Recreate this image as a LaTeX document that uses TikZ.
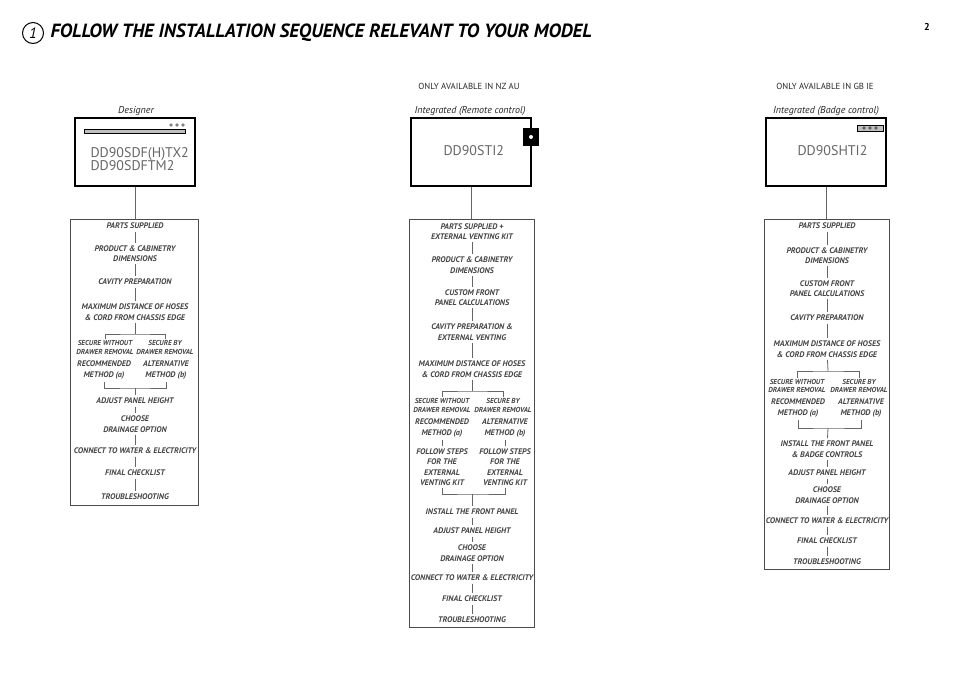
\documentclass[tikz,border=0pt]{standalone}
\usepackage{fontspec}
\setmainfont{PT Sans}
\usepackage{tikz}

\definecolor{txtgray}{HTML}{444444}
\definecolor{linegray}{HTML}{666666}

\begin{document}
\begin{tikzpicture}[x=1pt,y=-1pt,
  stp/.style={font=\fontsize{8.1}{10.5}\selectfont\bfseries\itshape, text=txtgray, align=center, inner sep=2.5pt},
  sml/.style={font=\fontsize{7.2}{8.8}\selectfont\bfseries\itshape, text=txtgray, align=center, inner sep=1pt},
  mlabel/.style={font=\fontsize{10}{11}\selectfont\itshape, text=black!85},
  avail/.style={font=\fontsize{8.8}{10}\selectfont, text=black!85},
  mdl/.style={font=\fontsize{14}{13.5}\selectfont, text=black!60, align=left, anchor=west},
  model/.style={draw=black, line width=1.1pt, minimum width=120, minimum height=68},
  flowbox/.style={draw=black!70, line width=0.9pt},
  lnk/.style={draw=linegray, line width=0.8pt}]
  \useasboundingbox (0,0) rectangle (954,675);

  % title
  \node[circle, draw=black, line width=1pt, minimum size=21, inner sep=0pt,
        font=\fontsize{15}{15}\selectfont\itshape] (num) at (33,33) {1};
  \node[anchor=west, font=\fontsize{19.1}{21}\selectfont\bfseries\itshape] (title) at (47,33)
    {FOLLOW THE INSTALLATION SEQUENCE RELEVANT TO YOUR MODEL};
  \node[font=\fontsize{10}{10}\selectfont\bfseries] (page) at (927,27) {2};

  % column 1: designer
  \node[mlabel] (m1L) at (136,111) {Designer};
  \node[model] (m1) at (135,152) {};
  \draw[fill=black!25, line width=0.6pt] (84,129) rectangle (185,133);
  \foreach \x in {171,177,183}
    \draw[line width=0.4pt] (\x,125) circle (1.4);
  \node[mdl] (m1T) at (87,159) {DD90SDF(H)TX2\\DD90SDFTM2};
  \node[flowbox, minimum width=128, minimum height=286] (f1) at (134,362) {};
  \draw[lnk] (m1.south) -- (m1.south |- f1.north);

  \node[stp] (a1) at (135,226) {PARTS SUPPLIED};
  \node[stp] (a2) at (135,253.5) {PRODUCT \& CABINETRY\\DIMENSIONS};
  \node[stp] (a3) at (135,282) {CAVITY PREPARATION};
  \node[stp] (a4) at (135,312) {MAXIMUM DISTANCE OF HOSES\\\& CORD FROM CHASSIS EDGE};
  \coordinate (a4j) at (135,334);
  \node[sml] (a5l) at (105,347.5) {SECURE WITHOUT\\DRAWER REMOVAL};
  \node[sml] (a5r) at (165,347.5) {SECURE BY\\DRAWER REMOVAL};
  \node[stp] (a6l) at (104,370) {RECOMMENDED\\METHOD (a)};
  \node[stp] (a6r) at (166,370) {ALTERNATIVE\\METHOD (b)};
  \coordinate (a6j) at (135,388);
  \node[stp] (a7) at (135,401) {ADJUST PANEL HEIGHT};
  \node[stp] (a8) at (135,424) {CHOOSE\\DRAINAGE OPTION};
  \node[stp] (a9) at (135,451) {CONNECT TO WATER \& ELECTRICITY};
  \node[stp] (a10) at (135,473) {FINAL CHECKLIST};
  \node[stp] (a11) at (135,497) {TROUBLESHOOTING};

  \foreach \a/\b in {a1/a2, a2/a3, a3/a4, a4/a4j, a6j/a7, a7/a8, a8/a9, a9/a10, a10/a11}
    \draw[lnk] (\a) -- (\b);
  \draw[lnk] (a5l.north) |- (a4j) -| (a5r.north);
  \draw[lnk] (a6l.south) |- (a6j) -| (a6r.south);

  % column 2: integrated, remote control
  \node[avail] (m2A) at (469,86) {ONLY AVAILABLE IN NZ AU};
  \node[mlabel] (m2L) at (470,111) {Integrated (Remote control)};
  \node[model] (m2) at (471,152) {};
  \fill (523,128) rectangle (539,146);
  \fill[white] (531,137) circle (2);
  \node[mdl] (m2T) at (440,151) {DD90STI2};
  \node[flowbox, minimum width=125, minimum height=408] (f2) at (471.5,423) {};
  \draw[lnk] (m2.south) -- (m2.south |- f2.north);

  \node[stp] (b1) at (472,231.5) {PARTS SUPPLIED +\\EXTERNAL VENTING KIT};
  \node[stp] (b2) at (472,265) {PRODUCT \& CABINETRY\\DIMENSIONS};
  \node[stp] (b3) at (472,297.5) {CUSTOM FRONT\\PANEL CALCULATIONS};
  \node[stp] (b4) at (472,332) {CAVITY PREPARATION \&\\EXTERNAL VENTING};
  \node[stp] (b5) at (472,369) {MAXIMUM DISTANCE OF HOSES\\\& CORD FROM CHASSIS EDGE};
  \coordinate (b5j) at (472,391);
  \node[sml] (b6l) at (442,405.5) {SECURE WITHOUT\\DRAWER REMOVAL};
  \node[sml] (b6r) at (503,405.5) {SECURE BY\\DRAWER REMOVAL};
  \node[stp] (b7l) at (442,428) {RECOMMENDED\\METHOD (a)};
  \node[stp] (b7r) at (505,428) {ALTERNATIVE\\METHOD (b)};
  \node[stp] (b8l) at (442,467) {FOLLOW STEPS\\FOR THE\\EXTERNAL\\VENTING KIT};
  \node[stp] (b8r) at (505,467) {FOLLOW STEPS\\FOR THE\\EXTERNAL\\VENTING KIT};
  \coordinate (b8j) at (472,494);
  \node[stp] (b9) at (472,512) {INSTALL THE FRONT PANEL};
  \node[stp] (b10) at (472,531) {ADJUST PANEL HEIGHT};
  \node[stp] (b11) at (472,553) {CHOOSE\\DRAINAGE OPTION};
  \node[stp] (b12) at (472,578) {CONNECT TO WATER \& ELECTRICITY};
  \node[stp] (b13) at (472,599) {FINAL CHECKLIST};
  \node[stp] (b14) at (472,620) {TROUBLESHOOTING};

  \foreach \a/\b in {b1/b2, b2/b3, b3/b4, b4/b5, b5/b5j, b7l/b8l, b7r/b8r, b8j/b9,
                     b9/b10, b10/b11, b11/b12, b12/b13, b13/b14}
    \draw[lnk] (\a) -- (\b);
  \draw[lnk] (b6l.north) |- (b5j) -| (b6r.north);
  \draw[lnk] (b8l.south) |- (b8j) -| (b8r.south);

  % column 3: integrated, badge control
  \node[avail] (m3A) at (825,86) {ONLY AVAILABLE IN GB IE};
  \node[mlabel] (m3L) at (826,111) {Integrated (Badge control)};
  \node[model] (m3) at (826,152) {};
  \draw[fill=black!25, line width=0.6pt] (857,125) rectangle (883,131);
  \foreach \x in {864,870,876}
    \draw[line width=0.4pt] (\x,128) circle (1.4);
  \node[mdl] (m3T) at (794,151) {DD90SHTI2};
  \node[flowbox, minimum width=125, minimum height=350] (f3) at (826.5,394) {};
  \draw[lnk] (m3.south) -- (m3.south |- f3.north);

  \node[stp] (c1) at (827,226) {PARTS SUPPLIED};
  \node[stp] (c2) at (827,255.5) {PRODUCT \& CABINETRY\\DIMENSIONS};
  \node[stp] (c3) at (827,288.5) {CUSTOM FRONT\\PANEL CALCULATIONS};
  \node[stp] (c4) at (827,318) {CAVITY PREPARATION};
  \node[stp] (c5) at (827,349) {MAXIMUM DISTANCE OF HOSES\\\& CORD FROM CHASSIS EDGE};
  \coordinate (c5j) at (828,371);
  \node[sml] (c6l) at (797,386) {SECURE WITHOUT\\DRAWER REMOVAL};
  \node[sml] (c6r) at (859,386) {SECURE BY\\DRAWER REMOVAL};
  \node[stp] (c7l) at (798,408) {RECOMMENDED\\METHOD (a)};
  \node[stp] (c7r) at (861,408) {ALTERNATIVE\\METHOD (b)};
  \coordinate (c7j) at (828,428);
  \node[stp] (c8) at (827,449) {INSTALL THE FRONT PANEL\\\& BADGE CONTROLS};
  \node[stp] (c9) at (827,473) {ADJUST PANEL HEIGHT};
  \node[stp] (c10) at (827,495) {CHOOSE\\DRAINAGE OPTION};
  \node[stp] (c11) at (827,521) {CONNECT TO WATER \& ELECTRICITY};
  \node[stp] (c12) at (827,541) {FINAL CHECKLIST};
  \node[stp] (c13) at (827,562) {TROUBLESHOOTING};

  \foreach \a/\b in {c1/c2, c2/c3, c3/c4, c4/c5, c5/c5j, c7j/c8, c8/c9, c9/c10,
                     c10/c11, c11/c12, c12/c13}
    \draw[lnk] (\a) -- (\b);
  \draw[lnk] (c6l.north) |- (c5j) -| (c6r.north);
  \draw[lnk] (c7l.south) |- (c7j) -| (c7r.south);
\end{tikzpicture}
\end{document}
